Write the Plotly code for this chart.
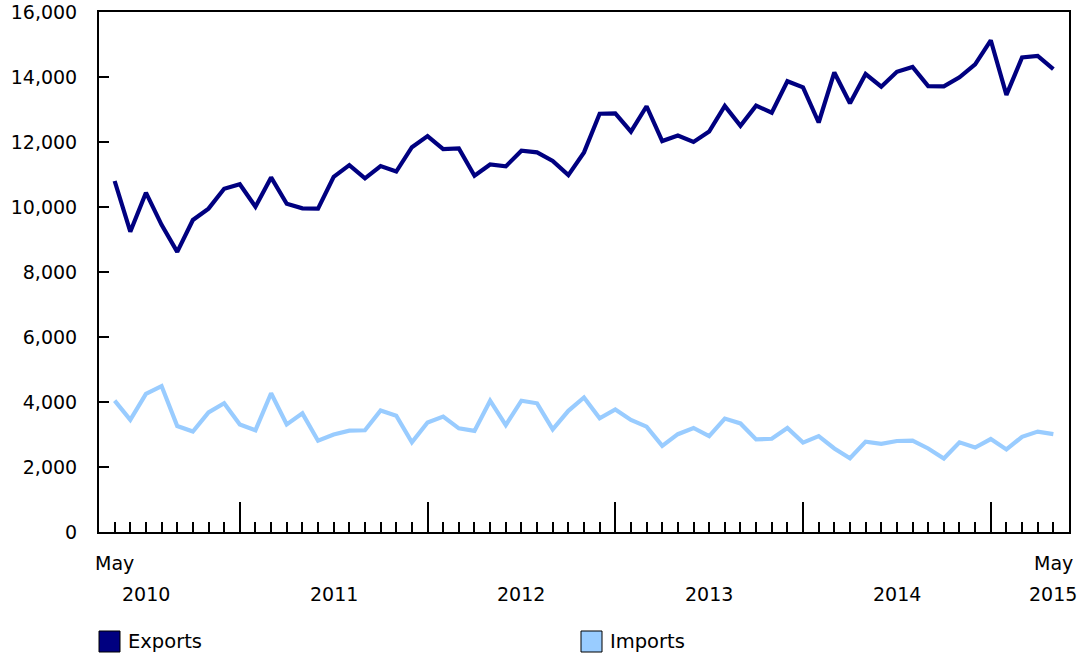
import plotly.graph_objects as go

# Monthly, May 2010 .. May 2015
months = [f"{2010 + (4 + i) // 12}-{(4 + i) % 12 + 1:02d}" for i in range(61)]

exports = [10800, 9240, 10440, 9450, 8620, 9600, 9950, 10560, 10700, 10010,
           10910, 10100, 9960, 9950, 10930, 11290, 10880, 11260, 11090, 11840,
           12180, 11780, 11800, 10960, 11310, 11250, 11730, 11680, 11420, 10980,
           11680, 12870, 12880, 12320, 13100, 12030, 12200, 12000, 12320, 13110,
           12500, 13120, 12900, 13870, 13680, 12600, 14140, 13190, 14090, 13700,
           14160, 14310, 13720, 13710, 13990, 14390, 15130, 13450, 14600, 14650,
           14240]

imports = [4040, 3450, 4250, 4490, 3260, 3090, 3680, 3960, 3310, 3130,
           4270, 3310, 3650, 2810, 3000, 3120, 3130, 3740, 3580, 2760,
           3370, 3550, 3190, 3110, 4040, 3290, 4040, 3960, 3160, 3730,
           4140, 3500, 3770, 3450, 3240, 2650, 3010, 3200, 2950, 3490,
           3340, 2850, 2870, 3200, 2750, 2950, 2570, 2270, 2780, 2710,
           2800, 2810, 2570, 2260, 2760, 2600, 2860, 2540, 2930, 3090,
           3010]

y_ticks = list(range(0, 16001, 2000))
series_names = ["Exports", "Imports"]
colors = ["#000080", "#99CCFF"]

x = list(range(len(months)))
jan_idx = [i for i, m in enumerate(months) if m.endswith("-01")]
jul_idx = [i for i, m in enumerate(months) if m.endswith("-07")]

fig = go.Figure()
for name, vals, col in zip(series_names, [exports, imports], colors):
    fig.add_trace(go.Scatter(x=x, y=vals, mode="lines", name=name,
                             line=dict(color=col, width=4.2), showlegend=False,
                             hoverinfo="skip"))

W, H = 1082, 655
L, R, T, B = 99, 13, 12, 123
pw, ph = W - L - R, H - T - B

def px_x(p):
    return (p - L) / pw

def px_y(p):
    return (H - B - p) / ph

font = dict(family="DejaVu Sans", size=19, color="#000000")

ann = []
# x-axis labels
ann.append(dict(x=0, y=px_y(563), xref="x", yref="paper", text="May",
                showarrow=False, font=font, xanchor="center", yanchor="middle"))
ann.append(dict(x=len(months) - 1, y=px_y(563), xref="x", yref="paper", text="May",
                showarrow=False, font=font, xanchor="center", yanchor="middle"))
for i in jul_idx:
    ann.append(dict(x=i, y=px_y(594), xref="x", yref="paper", text=months[i][:4],
                    showarrow=False, font=font, xanchor="center", yanchor="middle"))
ann.append(dict(x=len(months) - 1, y=px_y(594), xref="x", yref="paper",
                text=months[-1][:4], showarrow=False, font=font,
                xanchor="center", yanchor="middle"))

# legend
shapes = []
leg_pos = [99, 581]
for name, col, lx in zip(series_names, colors, leg_pos):
    shapes.append(dict(type="rect", xref="paper", yref="paper",
                       x0=px_x(lx), x1=px_x(lx + 21), y0=px_y(652), y1=px_y(631),
                       fillcolor=col, line=dict(color="#000000", width=1)))
    ann.append(dict(x=px_x(lx + 27), y=px_y(641), xref="paper", yref="paper",
                    text=name, showarrow=False,
                    font=dict(family="DejaVu Sans", size=19.5, color="#000000"),
                    xanchor="left", yanchor="middle"))

fig.update_layout(
    width=W, height=H,
    margin=dict(l=L, r=R, t=T, b=B, autoexpand=False),
    plot_bgcolor="white", paper_bgcolor="white",
    font=font, showlegend=False, hovermode=False,
    annotations=ann, shapes=shapes,
    xaxis=dict(range=[-1, len(months)], showline=True, linecolor="black",
               linewidth=2, mirror=True, ticks="inside", tickvals=jan_idx,
               ticklen=30, tickwidth=2, tickcolor="black", automargin=False,
               showticklabels=False, showgrid=False, zeroline=False,
               minor=dict(ticks="inside", ticklen=10, tickvals=x,
                          tickcolor="black", tickwidth=2, showgrid=False)),
    yaxis=dict(range=[0, 16000], tickvals=y_ticks, tickformat=",",
               ticks="inside", ticklen=10, tickwidth=2, tickcolor="black",
               showline=True, linecolor="black", linewidth=2, mirror=True,
               showgrid=False, zeroline=False, ticklabelstandoff=16,
               automargin=False, tickfont=font),
)

post = ("document.body.style.margin='0';document.body.style.overflow='hidden';"
        "var d=document.getElementById('{plot_id}');"
        "d.style.position='absolute';d.style.left='0px';d.style.top='0px';")

fig.write_html("out.html", post_script=post, config={"displayModeBar": False})
